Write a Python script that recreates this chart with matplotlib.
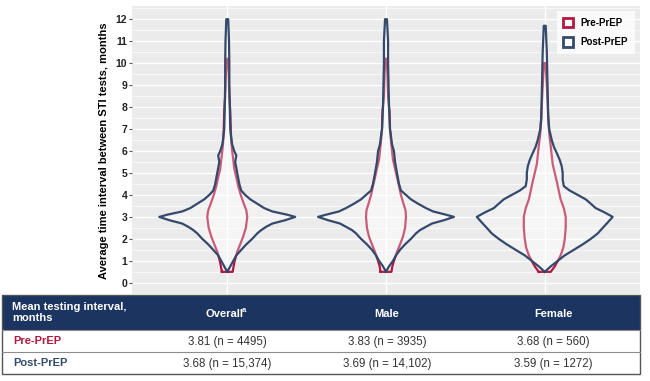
import numpy as np
import matplotlib
matplotlib.use("Agg")
import matplotlib.pyplot as plt
from matplotlib.patches import Patch, Rectangle

plt.rcParams['font.family'] = ['Liberation Sans', 'DejaVu Sans']

# categories and table values
groups = ['Overall', 'Male', 'Female']
pre_mean = [3.81, 3.83, 3.68]
pre_n = ['4495', '3935', '560']
post_mean = [3.68, 3.69, 3.59]
post_n = ['15,374', '14,102', '1272']

# violin outlines: interval (months) and half width (x units)
overall_post_y = [0.5, 0.75, 1.0, 1.25, 1.5, 1.75, 2.0, 2.25, 2.4, 2.55, 2.7, 2.85, 3.0, 3.1, 3.25,
                  3.4, 3.6, 3.8, 4.0, 4.2, 4.5, 5.0, 5.5, 5.8, 6.0, 6.3, 6.6, 7.0, 8.0, 9.0, 10.0, 11.0, 12.0]
overall_post_w = [0.0, 0.019, 0.038, 0.057, 0.088, 0.12, 0.157, 0.189, 0.214, 0.245, 0.285, 0.365, 0.428, 0.378, 0.283,
                  0.233, 0.189, 0.145, 0.113, 0.088, 0.076, 0.063, 0.05, 0.057, 0.044, 0.031, 0.025, 0.019, 0.016, 0.013, 0.013, 0.011, 0.006]
overall_pre_y = [0.5, 0.75, 1.0, 1.4, 1.8, 2.1, 2.5, 3.0, 3.3, 3.6, 4.0, 4.4, 4.8, 5.2, 5.6, 6.0, 6.5, 7.0, 7.8, 8.5, 9.5, 10.2]
overall_pre_w = [0.034, 0.04, 0.047, 0.062, 0.084, 0.1, 0.117, 0.126, 0.12, 0.104, 0.085, 0.069, 0.057, 0.044, 0.038, 0.031, 0.025, 0.022, 0.019, 0.013, 0.009, 0.004]

male_post_y = [0.5, 0.75, 1.0, 1.25, 1.5, 1.75, 2.0, 2.25, 2.4, 2.55, 2.7, 2.85, 3.0, 3.1, 3.25,
               3.4, 3.6, 3.8, 4.0, 4.2, 4.5, 5.0, 5.5, 6.0, 6.3, 6.7, 7.0, 8.0, 9.0, 10.0, 11.0, 12.0]
male_post_w = [0.0, 0.019, 0.044, 0.063, 0.088, 0.12, 0.157, 0.189, 0.214, 0.252, 0.29, 0.365, 0.428, 0.378, 0.296,
               0.252, 0.202, 0.157, 0.126, 0.094, 0.082, 0.069, 0.057, 0.05, 0.038, 0.031, 0.025, 0.019, 0.016, 0.013, 0.013, 0.006]
male_pre_y = [0.5, 0.75, 1.0, 1.4, 1.8, 2.1, 2.5, 3.0, 3.3, 3.6, 4.0, 4.4, 4.8, 5.2, 5.6, 6.0, 6.5, 7.0, 7.8, 8.5, 9.5, 10.2]
male_pre_w = [0.034, 0.04, 0.05, 0.069, 0.091, 0.107, 0.12, 0.126, 0.123, 0.11, 0.094, 0.082, 0.069, 0.057, 0.044, 0.038, 0.031, 0.025, 0.022, 0.013, 0.009, 0.004]

female_post_y = [0.5, 0.75, 1.0, 1.25, 1.5, 1.75, 2.0, 2.25, 2.5, 2.75, 3.0, 3.2, 3.4, 3.6, 3.8, 4.0, 4.2,
                 4.4, 4.7, 5.0, 5.3, 5.6, 5.9, 6.2, 6.5, 7.0, 7.5, 8.5, 9.5, 10.5, 11.7]
female_post_w = [0.0, 0.038, 0.082, 0.126, 0.183, 0.239, 0.29, 0.334, 0.365, 0.397, 0.428, 0.378, 0.321, 0.29, 0.258, 0.208, 0.157,
                 0.12, 0.113, 0.113, 0.107, 0.094, 0.076, 0.057, 0.044, 0.028, 0.022, 0.019, 0.016, 0.013, 0.006]
female_pre_y = [0.5, 0.75, 1.0, 1.25, 1.6, 2.0, 2.5, 3.0, 3.4, 3.8, 4.2, 4.6, 5.0, 5.4, 5.8, 6.2, 6.8, 7.5, 8.5, 9.5, 10.0]
female_pre_w = [0.038, 0.063, 0.082, 0.1, 0.117, 0.126, 0.132, 0.132, 0.12, 0.1, 0.088, 0.076, 0.063, 0.05, 0.044, 0.038, 0.028, 0.022, 0.016, 0.009, 0.004]

pre_shapes = [(overall_pre_y, overall_pre_w), (male_pre_y, male_pre_w), (female_pre_y, female_pre_w)]
post_shapes = [(overall_post_y, overall_post_w), (male_post_y, male_post_w), (female_post_y, female_post_w)]

pre_col = '#B3173F'
post_col = '#34496B'
navy = '#1B3460'


def draw_violin(ax, pos, y, w, col, z):
    y = np.asarray(y)
    w = np.asarray(w)
    ax.fill_betweenx(y, pos - w, pos + w, facecolor='white', alpha=0.3, lw=0, zorder=z)
    xs = np.concatenate([pos - w, (pos + w)[::-1], [pos - w[0]]])
    ys = np.concatenate([y, y[::-1], [y[0]]])
    ax.plot(xs, ys, color=col, lw=1.6, zorder=z + 0.1, solid_joinstyle='round')


fig = plt.figure(figsize=(6.5, 3.81), dpi=100)
W, H = 650, 381
ax = fig.add_axes([132 / W, 1 - 296 / H, (640 - 132) / W, (296 - 6) / H])
ax.set_facecolor('#EBEBEB')
for s in ax.spines.values():
    s.set_visible(False)

pos = np.arange(1, len(groups) + 1)
# pre-PrEP first, post-PrEP drawn over it with a half transparent fill
for p, (y, w) in zip(pos, pre_shapes):
    draw_violin(ax, p, y, w, pre_col, 2.0)
for p, (y, w) in zip(pos, post_shapes):
    draw_violin(ax, p, y, w, post_col, 3.0)

ax.set_xlim(0.4, 3.6)
ax.set_ylim(-0.6, 12.6)
ax.set_yticks(np.arange(0, 13))
ax.set_yticks(np.arange(-0.5, 12.6, 0.5), minor=True)
ax.set_xticks(pos)
ax.set_xticklabels([])
ax.tick_params(axis='x', length=0)
ax.tick_params(axis='y', length=2.5, color='#555555', pad=1, labelsize=7.5, labelcolor='#222222')
ax.tick_params(axis='y', which='minor', length=0)
for t in ax.get_yticklabels():
    t.set_fontweight('bold')
ax.grid(True, which='major', color='white', lw=1.0, zorder=0)
ax.grid(True, which='minor', axis='y', color='white', lw=0.5, zorder=0)
ax.set_axisbelow(True)
ax.set_ylabel('Average time interval between STI tests, months', fontsize=8, fontweight='bold', labelpad=5)

handles = [Patch(facecolor='white', edgecolor=pre_col, lw=2, label='Pre-PrEP'),
           Patch(facecolor='white', edgecolor=post_col, lw=2, label='Post-PrEP')]
leg = ax.legend(handles=handles, loc='upper right', fontsize=7, frameon=True, fancybox=False,
                handlelength=1.0, handleheight=1.1, labelspacing=1.0, borderaxespad=0.5,
                handletextpad=0.8, borderpad=0.7)
leg.get_frame().set_edgecolor('none')
leg.get_frame().set_facecolor('white')
leg.set_zorder(10)
for t in leg.get_texts():
    t.set_fontweight('bold')

# table under the chart, drawn in pixel coordinates
tab = fig.add_axes([0, 0, 1, 1], zorder=5)
tab.set_xlim(0, W)
tab.set_ylim(H, 0)
tab.axis('off')
tab.add_patch(Rectangle((0, 294), W, H - 294, facecolor='white', edgecolor='none'))
tab.add_patch(Rectangle((2, 295), 638, 35, facecolor=navy, edgecolor='none'))
tab.plot([2, 640], [351.5, 351.5], color='#8C8C8C', lw=0.8)
tab.plot([2, 640], [330, 330], color='#8C8C8C', lw=0.8)
tab.add_patch(Rectangle((2, 295), 638, 79, facecolor='none', edgecolor='#555555', lw=1.0))

col_x = [224, 387, 553]
tab.text(12, 312.5, 'Mean testing interval,\nmonths', color='white', fontsize=8, fontweight='bold',
         va='center', ha='left', linespacing=1.1)
for cx, g in zip(col_x, groups):
    tab.text(cx, 314, g, color='white', fontsize=8, fontweight='bold', va='center', ha='center')
tab.text(col_x[0] + 18, 311, 'a', color='white', fontsize=5.5, fontweight='bold', va='center', ha='left')

tab.text(13, 341, 'Pre-PrEP', color=pre_col, fontsize=8, fontweight='bold', va='center', ha='left')
tab.text(13, 363, 'Post-PrEP', color=post_col, fontsize=8, fontweight='bold', va='center', ha='left')
val_x = [227, 387, 553]
for cx, m, n in zip(val_x, pre_mean, pre_n):
    tab.text(cx, 341.5, f'{m:.2f} (n = {n})', color='#333333', fontsize=8.3, va='center', ha='center')
for cx, m, n in zip(val_x, post_mean, post_n):
    tab.text(cx, 363.5, f'{m:.2f} (n = {n})', color='#333333', fontsize=8.3, va='center', ha='center')

fig.savefig('out.png', dpi=100)
